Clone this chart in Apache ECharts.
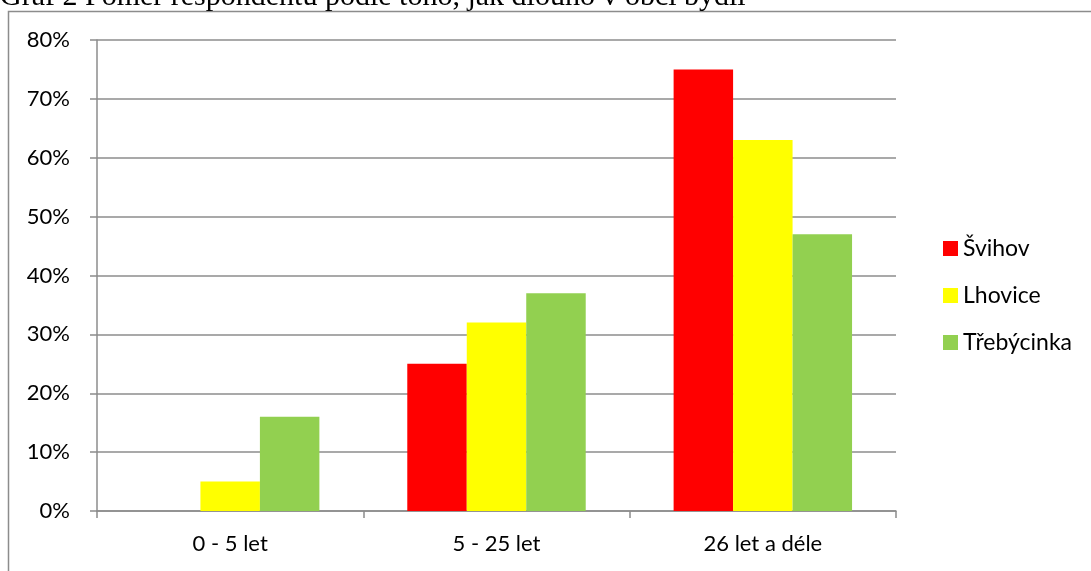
<!DOCTYPE html>
<html>
<head>
<meta charset="utf-8">
<script src="https://cdn.jsdelivr.net/npm/echarts@6/dist/echarts.min.js"></script>
<style>html,body{margin:0;padding:0;background:#fff}#c{width:1091px;height:571px}</style>
</head>
<body>
<div id="c"></div>
<script>
const categories = ['0 - 5 let', '5 - 25 let', '26 let a déle'];
const svihov = [0, 25, 75];
const lhovice = [5, 32, 63];
const trebycinka = [16, 37, 47];
const seriesNames = ['Švihov', 'Lhovice', 'Třebýcinka'];
const caption = 'Graf 2 Poměr respondentů podle toho, jak dlouho v obci bydlí';

const chart = echarts.init(document.getElementById('c'));
const font = 'Lato, "Open Sans", sans-serif';
chart.setOption({
  animation: false,
  graphic: [
    { type: 'rect', shape: { x: 8.5, y: 11.5, width: 1200, height: 700 }, style: { fill: 'none', stroke: '#8c8c8c', lineWidth: 1.5 }, silent: true },
    { type: 'text', x: 0, y: 12, style: { text: caption, font: '30px "Liberation Serif", "DejaVu Serif", serif', fill: '#000', verticalAlign: 'bottom', align: 'left' } }
  ],
  legend: {
    orient: 'vertical', left: 938, top: 232, itemWidth: 15, itemHeight: 15, itemGap: 24,
    icon: 'rect', textStyle: { fontSize: 23, lineHeight: 20, fontFamily: font, color: '#000', padding: [0, 0, 0, 0] }
  },
  grid: { left: 97, top: 40, right: 195, bottom: 60, containLabel: false },
  xAxis: {
    type: 'category', data: categories,
    axisLine: { lineStyle: { color: '#8c8c8c', width: 1.5 } },
    axisTick: { show: true, length: 7, lineStyle: { color: '#8c8c8c', width: 1.5 } },
    axisLabel: { fontSize: 22, fontFamily: font, color: '#000', margin: 22 }
  },
  yAxis: {
    type: 'value', min: 0, max: 80, interval: 10,
    axisLine: { show: true, lineStyle: { color: '#8c8c8c', width: 1.5 } },
    axisTick: { show: true, length: 7, lineStyle: { color: '#8c8c8c', width: 1.5 } },
    splitLine: { lineStyle: { color: '#8c8c8c', width: 1.5 } },
    axisLabel: { fontSize: 22, fontFamily: font, color: '#000', margin: 27, formatter: '{value}%' }
  },
  series: [
    { name: seriesNames[0], type: 'bar', data: svihov, itemStyle: { color: '#ff0000' }, barGap: '0%', barCategoryGap: '33%' },
    { name: seriesNames[1], type: 'bar', data: lhovice, itemStyle: { color: '#ffff00' } },
    { name: seriesNames[2], type: 'bar', data: trebycinka, itemStyle: { color: '#92d050' } }
  ]
});
</script>
</body>
</html>
